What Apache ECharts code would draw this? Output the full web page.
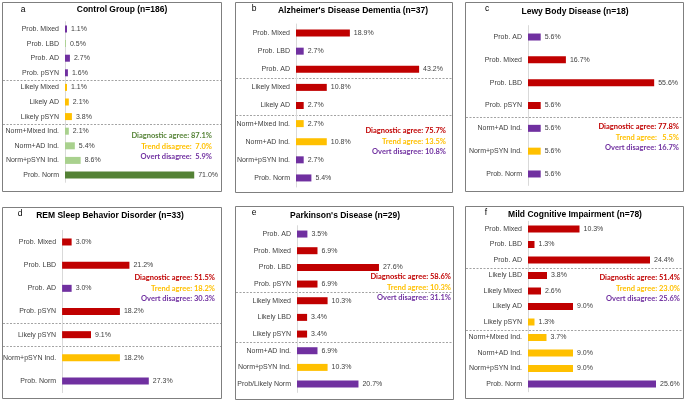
<!DOCTYPE html>
<html>
<head>
<meta charset="utf-8">
<script src="https://cdn.jsdelivr.net/npm/echarts@6/dist/echarts.min.js"></script>
<style>
  html, body { margin: 0; padding: 0; background: #fff; }
  #main { width: 685px; height: 400px; }
</style>
</head>
<body>
<div id="main"></div>
<script>
// a - Control Group
const catsA = ['Prob. Mixed', 'Prob. LBD', 'Prob. AD', 'Prob. pSYN', 'Likely Mixed', 'Likely AD', 'Likely pSYN',
  'Norm+Mixed Ind.', 'Norm+AD Ind.', 'Norm+pSYN Ind.', 'Prob. Norm'];
const valsA = [1.1, 0.5, 2.7, 1.6, 1.1, 2.1, 3.8, 2.1, 5.4, 8.6, 71.0];
const kindA = ['overt', 'agreeLight', 'overt', 'overt', 'trend', 'trend', 'trend', 'agreeLight', 'agreeLight', 'agreeLight', 'agree'];
const breaksA = [4, 7];
const notesA = ['Diagnostic agree: 87.1%', 'Trend disagree:  7.0%', 'Overt disagree:  5.9%'];

// b - Alzheimer's Disease Dementia
const catsB = ['Prob. Mixed', 'Prob. LBD', 'Prob. AD', 'Likely Mixed', 'Likely AD',
  'Norm+Mixed Ind.', 'Norm+AD Ind.', 'Norm+pSYN Ind.', 'Prob. Norm'];
const valsB = [18.9, 2.7, 43.2, 10.8, 2.7, 2.7, 10.8, 2.7, 5.4];
const kindB = ['agree', 'overt', 'agree', 'agree', 'agree', 'trend', 'trend', 'overt', 'overt'];
const breaksB = [3, 5];
const notesB = ['Diagnostic agree: 75.7%', 'Trend agree: 13.5%', 'Overt disagree: 10.8%'];

// c - Lewy Body Disease
const catsC = ['Prob. AD', 'Prob. Mixed', 'Prob. LBD', 'Prob. pSYN', 'Norm+AD Ind.', 'Norm+pSYN Ind.', 'Prob. Norm'];
const valsC = [5.6, 16.7, 55.6, 5.6, 5.6, 5.6, 5.6];
const kindC = ['overt', 'agree', 'agree', 'agree', 'overt', 'trend', 'overt'];
const breaksC = [4];
const notesC = ['Diagnostic agree: 77.8%', 'Trend agree:   5.5%', 'Overt disagree: 16.7%'];

// d - REM Sleep Behavior Disorder
const catsD = ['Prob. Mixed', 'Prob. LBD', 'Prob. AD', 'Prob. pSYN', 'Likely pSYN', 'Norm+pSYN Ind.', 'Prob. Norm'];
const valsD = [3.0, 21.2, 3.0, 18.2, 9.1, 18.2, 27.3];
const kindD = ['agree', 'agree', 'overt', 'agree', 'agree', 'trend', 'overt'];
const breaksD = [4, 5];
const notesD = ['Diagnostic agree: 51.5%', 'Trend agree: 18.2%', 'Overt disagree: 30.3%'];

// e - Parkinson's Disease
const catsE = ['Prob. AD', 'Prob. Mixed', 'Prob. LBD', 'Prob. pSYN', 'Likely Mixed', 'Likely LBD', 'Likely pSYN',
  'Norm+AD Ind.', 'Norm+pSYN Ind.', 'Prob/Likely Norm'];
const valsE = [3.5, 6.9, 27.6, 6.9, 10.3, 3.4, 3.4, 6.9, 10.3, 20.7];
const kindE = ['overt', 'agree', 'agree', 'agree', 'agree', 'agree', 'agree', 'overt', 'trend', 'overt'];
const breaksE = [4, 7];
const notesE = ['Diagnostic agree: 58.6%', 'Trend agree: 10.3%', 'Overt disagree: 31.1%'];

// f - Mild Cognitive Impairment
const catsF = ['Prob. Mixed', 'Prob. LBD', 'Prob. AD', 'Likely LBD', 'Likely Mixed', 'Likely AD', 'Likely pSYN',
  'Norm+Mixed Ind.', 'Norm+AD Ind.', 'Norm+pSYN Ind.', 'Prob. Norm'];
const valsF = [10.3, 1.3, 24.4, 3.8, 2.6, 9.0, 1.3, 3.7, 9.0, 9.0, 25.6];
const kindF = ['agree', 'agree', 'agree', 'agree', 'agree', 'agree', 'trend', 'trend', 'trend', 'trend', 'overt'];
const breaksF = [3, 7];
const notesF = ['Diagnostic agree: 51.4%', 'Trend agree: 23.0%', 'Overt disagree: 25.6%'];

const RED = '#C00000', PURPLE = '#7030A0', GOLD = '#FFC000';
const colorsGreen = { agree: '#548235', agreeLight: '#A9D18E', trend: GOLD, overt: PURPLE };
const colorsRed = { agree: RED, trend: GOLD, overt: PURPLE };

const panels = [
  { tag: 'a', title: 'Control Group (n=186)', cats: catsA, vals: valsA, kinds: kindA, breaks: breaksA, notes: notesA,
    colors: colorsGreen, box: [2, 2, 221, 191], titleX: 122, titleY: 10, tagX: 23, tagY: 10,
    grid: { left: 65, top: 21.7, height: 160.6, width: 145.6 }, max: 80, noteX: 212, noteY: 136 },
  { tag: 'b', title: "Alzheimer's Disease Dementia (n=37)", cats: catsB, vals: valsB, kinds: kindB, breaks: breaksB, notes: notesB,
    colors: colorsRed, box: [235, 2, 452, 192], titleX: 353, titleY: 11, tagX: 254, tagY: 9,
    grid: { left: 296, top: 24, height: 163, width: 142.5 }, max: 50, noteX: 446, noteY: 131 },
  { tag: 'c', title: 'Lewy Body Disease (n=18)', cats: catsC, vals: valsC, kinds: kindC, breaks: breaksC, notes: notesC,
    colors: colorsRed, box: [465, 2, 683, 191], titleX: 575, titleY: 12, tagX: 487, tagY: 9,
    grid: { left: 528, top: 25.6, height: 159.8, width: 147.5 }, max: 65, noteX: 679, noteY: 127 },
  { tag: 'd', title: 'REM Sleep Behavior Disorder (n=33)', cats: catsD, vals: valsD, kinds: kindD, breaks: breaksD, notes: notesD,
    colors: colorsRed, box: [2, 207, 221, 398], titleX: 110, titleY: 216, tagX: 20, tagY: 214,
    grid: { left: 60, top: 230.4, height: 162.2, width: 145 }, max: 45, noteX: 215, noteY: 278 },
  { tag: 'e', title: "Parkinson's Disease (n=29)", cats: catsE, vals: valsE, kinds: kindE, breaks: breaksE, notes: notesE,
    colors: colorsRed, box: [235, 206, 453, 399], titleX: 345, titleY: 216, tagX: 254, tagY: 213,
    grid: { left: 297, top: 225.7, height: 166.7, width: 148.5 }, max: 50, noteX: 451, noteY: 277 },
  { tag: 'f', title: 'Mild Cognitive Impairment (n=78)', cats: catsF, vals: valsF, kinds: kindF, breaks: breaksF, notes: notesF,
    colors: colorsRed, box: [465, 206, 683, 398], titleX: 575, titleY: 215, tagX: 486, tagY: 213,
    grid: { left: 528, top: 221.25, height: 170.5, width: 150 }, max: 30, noteX: 680, noteY: 278 }
];

const FONT = '"Liberation Sans", Arial, sans-serif';
const chart = echarts.init(document.getElementById('main'), null, { renderer: 'canvas' });

const option = {
  animation: false,
  backgroundColor: '#fff',
  grid: [], xAxis: [], yAxis: [], series: []
};

panels.forEach((p, i) => {
  option.grid.push(Object.assign({ containLabel: false }, p.grid));
  option.xAxis.push({
    type: 'value', gridIndex: i, min: 0, max: p.max, show: false
  });
  option.yAxis.push({
    type: 'category', gridIndex: i, inverse: true, data: p.cats,
    axisLine: { show: true, lineStyle: { color: '#d9d9d9', width: 1 } },
    axisTick: { show: false },
    axisLabel: { fontSize: 7, color: '#404040', fontFamily: FONT, margin: 6 }
  });
  option.series.push({
    type: 'bar', xAxisIndex: i, yAxisIndex: i, barWidth: 7,
    data: p.vals.map((v, k) => ({ value: v, itemStyle: { color: p.colors[p.kinds[k]] } })),
    label: {
      show: true, position: 'right', distance: 4,
      fontSize: 7, color: '#404040', fontFamily: FONT,
      formatter: d => d.value.toFixed(1) + '%'
    }
  });
});

chart.setOption(option);

// frames, titles, notes and group separators
const graphic = [];
panels.forEach((p, i) => {
  const [x0, y0, x1, y1] = p.box;
  graphic.push({
    type: 'rect', shape: { x: x0 + 0.5, y: y0 + 0.5, width: x1 - x0, height: y1 - y0 },
    style: { fill: 'none', stroke: '#7f7f7f', lineWidth: 1 }, silent: true
  });
  graphic.push({
    type: 'text', x: p.titleX, y: p.titleY,
    style: { text: p.title, font: 'bold 8.5px ' + FONT, fill: '#000', textAlign: 'center', textVerticalAlign: 'middle' }
  });
  graphic.push({
    type: 'text', x: p.tagX, y: p.tagY,
    style: { text: p.tag, font: '8.5px ' + FONT, fill: '#000', textAlign: 'center', textVerticalAlign: 'middle' }
  });
  const noteColors = [p.colors.agree, GOLD, PURPLE];
  p.notes.forEach((t, k) => {
    graphic.push({
      type: 'text', x: p.noteX, y: p.noteY + k * 10.3,
      style: { text: t, font: 'bold 7.5px Lato, "Open Sans", sans-serif', fill: noteColors[k],
        textAlign: 'right', textVerticalAlign: 'middle' }
    });
  });
  p.breaks.forEach(b => {
    const ya = chart.convertToPixel({ yAxisIndex: i }, b - 1);
    const yb = chart.convertToPixel({ yAxisIndex: i }, b);
    const y = Math.round((ya + yb) / 2) + 0.5;
    graphic.push({
      type: 'line', shape: { x1: x0 + 1, y1: y, x2: x1, y2: y },
      style: { stroke: '#8c8c8c', lineWidth: 0.8, lineDash: [2, 1.5] }, silent: true
    });
  });
});

chart.setOption({ graphic: graphic });
</script>
</body>
</html>
